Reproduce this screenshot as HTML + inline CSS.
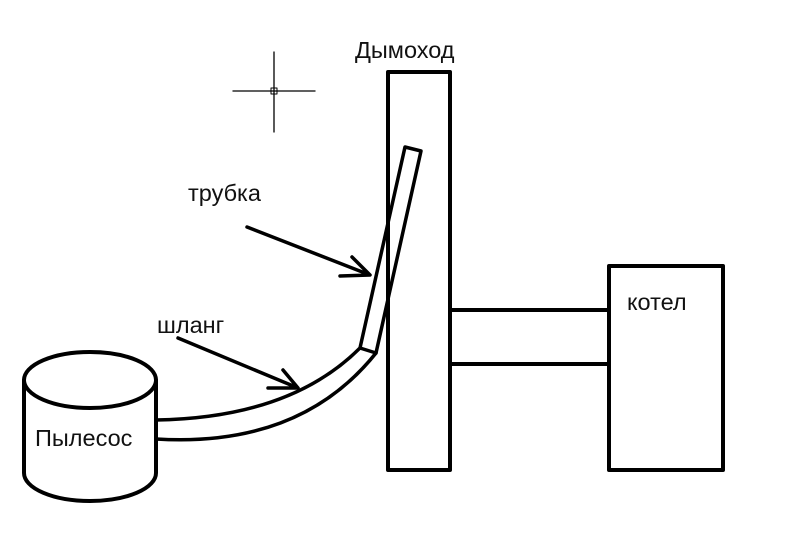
<!DOCTYPE html>
<html><head><meta charset="utf-8"><style>
html,body{margin:0;padding:0;background:#fff}
svg{display:block}
text{font-family:"Liberation Sans",sans-serif;font-size:23.5px;fill:#111}
</style></head><body>
<svg width="800" height="554" viewBox="0 0 800 554" xmlns="http://www.w3.org/2000/svg">
<g fill="none" stroke="#000" stroke-linecap="round" stroke-linejoin="round">
<line x1="233" y1="91" x2="315" y2="91" stroke-width="1.3"/>
<line x1="274" y1="52" x2="274" y2="132" stroke-width="1.3"/>
<rect x="271" y="88" width="6" height="6" stroke-width="1"/>
<rect x="388" y="72" width="62" height="398" stroke-width="4"/>
<rect x="609" y="266" width="114" height="204" stroke-width="4"/>
<line x1="450" y1="310" x2="609" y2="310" stroke-width="4"/>
<line x1="450" y1="364" x2="609" y2="364" stroke-width="4"/>
<ellipse cx="90" cy="380" rx="66" ry="28" stroke-width="4"/>
<path d="M24 380 L24 473 A66 28 0 0 0 156 473 L156 380" stroke-width="4"/>
<path d="M156 420 Q290 418 360 348" stroke-width="3.5"/>
<path d="M156 439 Q300 448 376 353" stroke-width="3.5"/>
<path d="M360 348 L405 147 L421 151 L376 353 Z" stroke-width="3.5"/>
<path d="M247 227 L370 275 M352 257 L370 275 L340 276" stroke-width="3.5"/>
<path d="M178 338 L298 388 M283 370 L298 388 L268 388" stroke-width="3.5"/>
</g>
<text x="355" y="58">Дымоход</text>
<text x="188" y="201">трубка</text>
<text x="157" y="333">шланг</text>
<text x="35" y="446">Пылесос</text>
<text x="627" y="310">котел</text>
</svg>
</body></html>
